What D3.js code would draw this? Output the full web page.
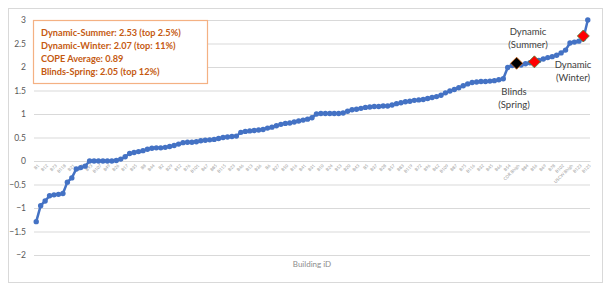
<!DOCTYPE html>
<html>
<head>
<meta charset="utf-8">
<script src="https://cdn.jsdelivr.net/npm/d3@7"></script>
<style>
  body { margin: 0; background: #fff; }
  text { font-family: Lato, "Open Sans", sans-serif; }
</style>
</head>
<body>
<div id="wrapper"></div>
<script>
// building ids (x categories)
const buildingIds = [
  "B1","B3","B12","B40","B73","B9","B118","B55","B21","B64",
  "B88","B7","B93","B30","B107","B14","B49","B81","B26","B60",
  "B17","B99","B35","B112","B8","B71","B44","B90","B2","B63",
  "B29","B120","B52","B11","B76","B38","B101","B19","B67","B4",
  "B85","B33","B115","B58","B23","B95","B46","B70","B13","B108",
  "B36","B80","B6","B61","B27","B117","B50","B92","B16","B74",
  "B41","B103","B31","B86","B10","B68","B24","B110","B53","B97",
  "B20","B79","B43","B113","B5","B65","B37","B89","B28","B104",
  "B57","B15","B83","B47","B119","B22","B72","B39","B96","B18",
  "B62","B34","B109","B51","B87","B25","B75","B42","B116","B59",
  "B32","B98","B45","B82","B66","B105","B54","B77","CDR Bhigh","B48",
  "B84","B100","B56","B91","B69","B111","B78","B94","B102","B114",
  "USCW Bhigh","B122","B123","B124","B125"
]

// sorted COPE values
const copeValues = [
  -1.29,-0.95,-0.85,-0.74,-0.72,-0.71,-0.69,-0.45,-0.36,-0.17,
  -0.14,-0.11,0.0,0.0,0.0,0.0,0.0,0.0,0.01,0.04,
  0.09,0.16,0.18,0.2,0.22,0.25,0.27,0.28,0.28,0.29,
  0.31,0.33,0.36,0.39,0.4,0.4,0.41,0.43,0.44,0.45,
  0.46,0.48,0.5,0.51,0.52,0.53,0.61,0.63,0.64,0.65,
  0.66,0.67,0.7,0.72,0.75,0.78,0.8,0.81,0.83,0.85,
  0.87,0.89,0.92,1.0,1.01,1.01,1.01,1.01,1.01,1.02,
  1.06,1.09,1.1,1.12,1.14,1.15,1.16,1.16,1.17,1.17,
  1.19,1.22,1.24,1.26,1.27,1.29,1.3,1.31,1.33,1.35,
  1.37,1.4,1.45,1.49,1.52,1.56,1.6,1.64,1.67,1.68,
  1.69,1.69,1.7,1.71,1.73,1.75,1.99,2.03,2.05,2.04,
  2.07,2.09,2.1,2.14,2.17,2.2,2.22,2.25,2.3,2.36,
  2.51,2.53,2.55,2.6,3.0
]

// highlighted cases
const highlightIdx = [108, 112, 123]
const highlightVal = [2.08, 2.11, 2.66]
const highlightFill = ["#000000", "#ff0000", "#ff0000"]
const highlightStroke = ["#c55a11", "#548235", "#548235"]
const highlightLabels = [["Blinds", "(Spring)"], ["Dynamic", "(Summer)"], ["Dynamic", "(Winter)"]]

const legendLines = [
  "Dynamic-Summer: 2.53 (top 2.5%)",
  "Dynamic-Winter: 2.07 (top: 11%)",
  "COPE Average: 0.89",
  "Blinds-Spring: 2.05 (top 12%)"
]

const yTicks = [3, 2.5, 2, 1.5, 1, 0.5, 0, -0.5, -1, -1.5, -2]

const width = 610
const height = 290

const svg = d3.select('#wrapper')
  .append('svg')
    .attr('width', width)
    .attr('height', height)

// chart frame
svg.append('rect')
  .attr('x', 8.5).attr('y', 8.5)
  .attr('width', 594).attr('height', 274)
  .attr('fill', 'none')
  .attr('stroke', '#d9d9d9')

const xScale = d3.scaleBand()
  .domain(d3.range(copeValues.length))
  .range([34, 590])
const xCenter = i => xScale(i) + xScale.bandwidth() / 2

const yScale = d3.scaleLinear()
  .domain([-2, 3])
  .range([255, 20])

// gridlines + y labels
const yAxis = svg.append('g')
  .attr('transform', 'translate(34,0)')
  .call(d3.axisLeft(yScale).tickValues(yTicks).tickSize(-556).tickFormat(d3.format('')))
yAxis.select('.domain').remove()
yAxis.selectAll('line').attr('stroke', '#d9d9d9').attr('stroke-width', 1)
yAxis.selectAll('text')
  .attr('x', -8)
  .attr('fill', '#595959')
  .style('font-size', '8.5px')

// category axis at zero
const xAxis = svg.append('g')
  .attr('transform', `translate(0,${yScale(0)})`)
  .call(d3.axisBottom(xScale)
    .tickValues(d3.range(0, copeValues.length, 2))
    .tickSize(0)
    .tickFormat(i => buildingIds[i]))
xAxis.select('.domain').attr('stroke', '#d9d9d9')
xAxis.selectAll('text')
  .attr('fill', '#9a9a9a')
  .style('font-size', '4.3px')
  .attr('text-anchor', 'end')
  .attr('transform', 'rotate(-45)')
  .attr('dx', '-0.3em')
  .attr('dy', '0.9em')
  .attr('y', 2)

// line
const line = d3.line()
  .x((d, i) => xCenter(i))
  .y(d => yScale(d))

svg.append('path')
  .datum(copeValues)
  .attr('d', line)
  .attr('fill', 'none')
  .attr('stroke', '#4472c4')
  .attr('stroke-width', 2.5)
  .attr('stroke-linejoin', 'round')

svg.append('g')
  .selectAll('circle')
  .data(copeValues)
  .join('circle')
    .attr('cx', (d, i) => xCenter(i))
    .attr('cy', d => yScale(d))
    .attr('r', 2.7)
    .attr('fill', '#4472c4')

// highlighted diamonds
svg.append('g')
  .selectAll('path')
  .data(highlightIdx)
  .join('path')
    .attr('d', d3.symbol(d3.symbolSquare, 72))
    .attr('transform', (d, k) => `translate(${xCenter(d)},${yScale(highlightVal[k])}) rotate(45)`)
    .attr('fill', (d, k) => highlightFill[k])
    .attr('stroke', (d, k) => highlightStroke[k])
    .attr('stroke-width', 0.8)

// annotation labels
const labelPos = [[514, 95], [528, 35], [573, 68]]
labelPos.forEach(([x, y], k) => {
  const t = svg.append('text')
    .attr('x', x).attr('y', y)
    .attr('text-anchor', 'middle')
    .attr('fill', '#404040')
    .style('font-size', '9.5px')
  highlightLabels[k].forEach((s, j) => {
    t.append('tspan').attr('x', x).attr('dy', j === 0 ? 0 : 13).text(s)
  })
})

// legend box
svg.append('rect')
  .attr('x', 33.5).attr('y', 20.5)
  .attr('width', 174).attr('height', 63)
  .attr('fill', '#fff')
  .attr('stroke', '#f4b183')
  .attr('stroke-width', 1.2)

svg.append('g')
  .selectAll('text')
  .data(legendLines)
  .join('text')
    .attr('x', 41)
    .attr('y', (d, i) => 35.5 + i * 13.3)
    .attr('fill', '#c55a11')
    .style('font-size', '9.2px')
    .style('font-weight', 'bold')
    .text(d => d)

// x axis title
svg.append('text')
  .attr('x', 312).attr('y', 267)
  .attr('text-anchor', 'middle')
  .attr('fill', '#8c8c8c')
  .style('font-size', '8px')
  .text('Building iD')
</script>
</body>
</html>
